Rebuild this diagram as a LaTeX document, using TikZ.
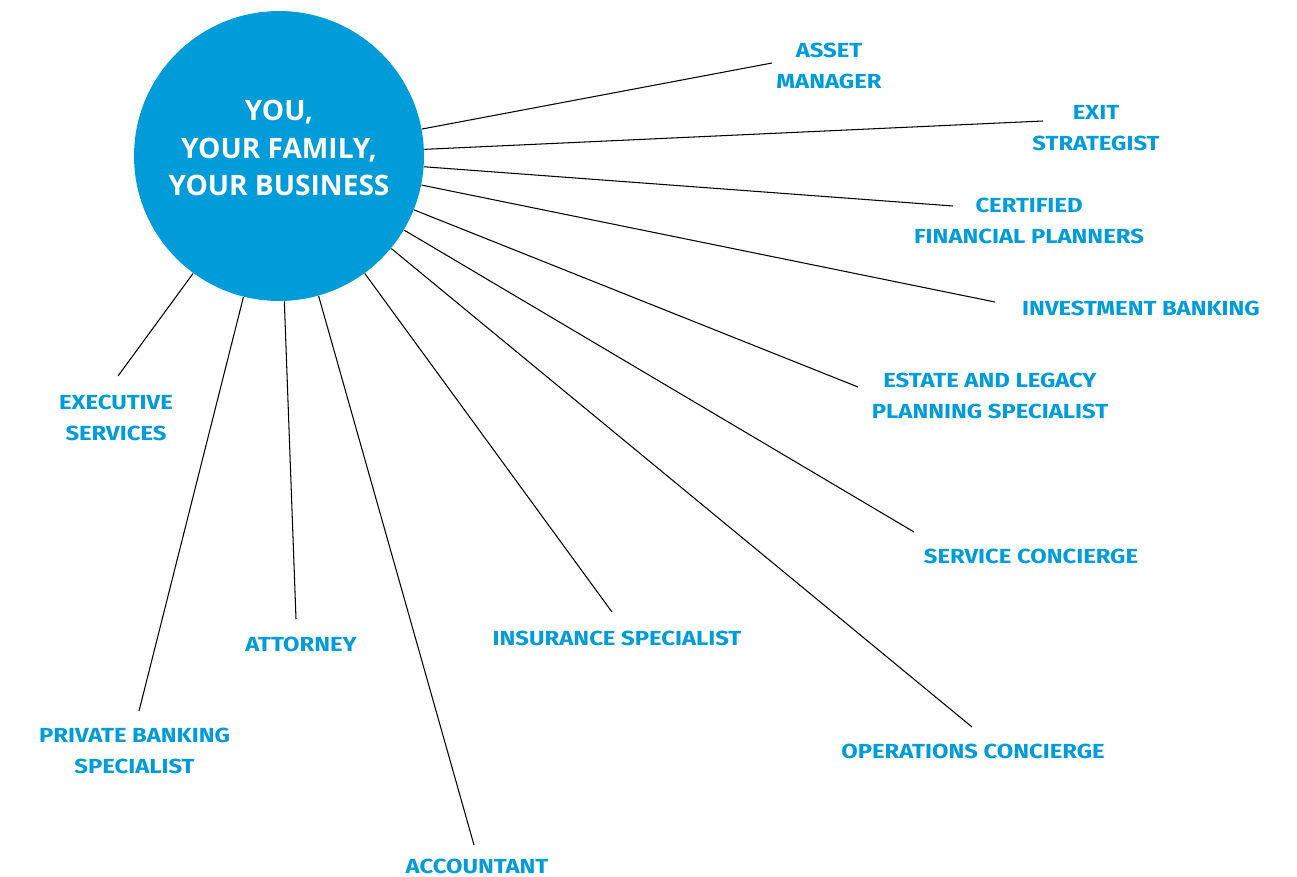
\documentclass[tikz,border=0pt]{standalone}
\usepackage{fontspec}
\newfontfamily\labelfont[FakeStretch=1.17]{Fira Sans}
\newfontfamily\hubfont{Open Sans}
\usetikzlibrary{arrows}
\definecolor{hubblue}{HTML}{009BD9}

\begin{document}
\begin{tikzpicture}[x=0.02cm,y=-0.02cm,
	thin,line width=0.6pt,
	hub node/.style={circle,fill=hubblue,minimum size=5.8cm,inner sep=0pt},
	hub text/.style={text=white,align=center,inner sep=0pt,
		font=\hubfont\bfseries\fontsize{16}{21.5}\selectfont},
	role node/.style={text=hubblue,align=center,inner sep=0pt,
		font=\labelfont\bfseries\fontsize{11.6}{18}\selectfont}]
	\useasboundingbox (0,0) rectangle (1297,876);
	
	\node[hub node] (you) at (279,156) {};
	\node[hub text] (youtext) at (279,148) {YOU,\\YOUR FAMILY,\\YOUR BUSINESS};
	
	% where each spoke stops
	\coordinate (asset) at (772,63);
	\coordinate (exit) at (1043,121);
	\coordinate (cfp) at (953,206);
	\coordinate (invest) at (995,302);
	\coordinate (estate) at (858,387);
	\coordinate (service) at (914,532);
	\coordinate (ops) at (972,727);
	\coordinate (insure) at (612,612);
	\coordinate (account) at (474,845);
	\coordinate (attorney) at (296,619);
	\coordinate (private) at (139,711);
	\coordinate (exec) at (118,376);
	
	\node[role node] (assetl) at (829,66) {ASSET\\MANAGER};
	\node[role node] (exitl) at (1096,128) {EXIT\\STRATEGIST};
	\node[role node] (cfpl) at (1029,221) {CERTIFIED\\FINANCIAL PLANNERS};
	\node[role node] (investl) at (1141,308) {INVESTMENT BANKING};
	\node[role node] (estatel) at (990,396) {ESTATE AND LEGACY\\PLANNING SPECIALIST};
	\node[role node] (servicel) at (1031,556) {SERVICE CONCIERGE};
	\node[role node] (opsl) at (973,751) {OPERATIONS CONCIERGE};
	\node[role node] (insurel) at (617,638) {INSURANCE SPECIALIST};
	\node[role node] (accountl) at (477,866) {ACCOUNTANT};
	\node[role node] (attorneyl) at (301,644) {ATTORNEY};
	\node[role node] (privatel) at (134.5,751) {PRIVATE BANKING\\SPECIALIST};
	\node[role node] (execl) at (116,418) {EXECUTIVE\\SERVICES};
	
	\path
	(you) edge (asset)
	(you) edge (exit)
	(you) edge (cfp)
	(you) edge (invest)
	(you) edge (estate)
	(you) edge (service)
	(you) edge (ops)
	(you) edge (insure)
	(you) edge (account)
	(you) edge (attorney)
	(you) edge (private)
	(you) edge (exec);
\end{tikzpicture}
\end{document}
